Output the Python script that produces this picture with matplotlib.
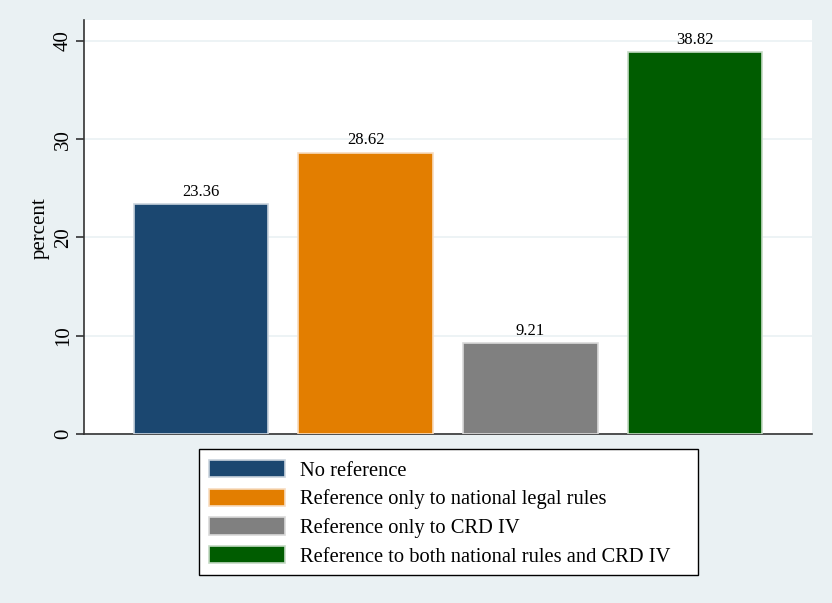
#!/usr/bin/env python3
"""
Bar chart of reference types (Stata s2color look).
"""

import matplotlib.pyplot as plt
from matplotlib.patches import Patch, Rectangle

categories = ["No reference",
              "Reference only to national legal rules",
              "Reference only to CRD IV",
              "Reference to both national rules and CRD IV"]
values = [23.36, 28.62, 9.21, 38.82]
colors = ["#1B4770", "#E37E00", "#808080", "#005C00"]
edge_colors = ["#C9D3DD", "#F7DCC0", "#D9D9D9", "#C3D9C3"]
yticks = [0, 10, 20, 30, 40]

plt.rcParams['font.family'] = ['Liberation Serif', 'DejaVu Serif']

fig = plt.figure(figsize=(8.32, 6.03), dpi=100, facecolor="#EAF1F3")
W, H = 832, 603
ax = fig.add_axes([84 / W, 1 - 434 / H, (812 - 84) / W, (434 - 20) / H])
ax.set_facecolor("white")

x = list(range(len(values)))
ax.bar(x, values, width=0.818, color=colors, edgecolor=edge_colors,
       linewidth=1.2, zorder=3)

for xi, v in zip(x, values):
    ax.text(xi, v + 0.85, f"{v:.2f}", ha="center", va="baseline", fontsize=12)

ax.set_xlim(-0.71, 3.71)
ax.set_ylim(0, (434 - 20) / 9.83)
ax.set_yticks(yticks)
ax.set_yticklabels([str(t) for t in yticks], rotation=90, va="center", fontsize=15)
ax.tick_params(axis="y", length=6, width=1.2, color="#333333", pad=2)
ax.set_xticks([])
ax.grid(axis="y", color="#EAF1F3", linewidth=1.2, zorder=0)
fig.text(40 / W, 1 - 228 / H, "percent", rotation=90, ha="center", va="center",
         fontsize=15)

for side in ["top", "right"]:
    ax.spines[side].set_visible(False)
for side in ["left", "bottom"]:
    ax.spines[side].set_color("#333333")
    ax.spines[side].set_linewidth(1.2)

# legend box drawn by hand (Stata leaves extra room on the right)
fig.add_artist(Rectangle((199 / W, 1 - 575 / H), (698 - 199) / W, (575 - 449) / H,
                         transform=fig.transFigure, facecolor="white",
                         edgecolor="black", linewidth=1.0, zorder=1))

handles = [Patch(facecolor=c, edgecolor=e, linewidth=1.2, label=l)
           for c, e, l in zip(colors, edge_colors, categories)]
leg = fig.legend(handles=handles, loc="upper left",
                 bbox_to_anchor=(209 / W, 1 - 460 / H), borderaxespad=0,
                 fontsize=14.8, frameon=False,
                 handlelength=3.7, handleheight=0.93, handletextpad=0.73,
                 labelspacing=0.38, borderpad=0)
leg.set_zorder(2)

plt.savefig("out.png", dpi=100, facecolor=fig.get_facecolor())
